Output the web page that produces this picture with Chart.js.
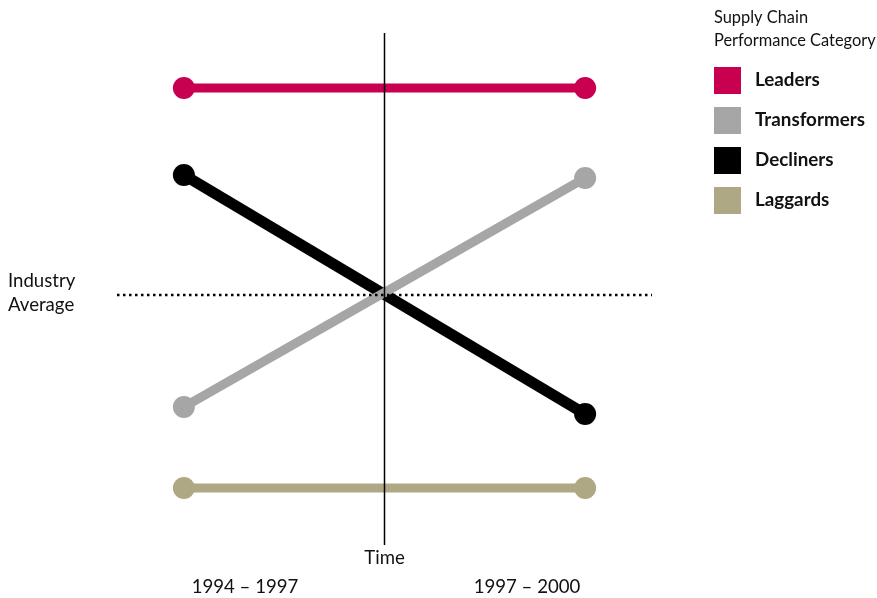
<!DOCTYPE html>
<html lang="en">
<head>
    <meta charset="UTF-8">
    <title>Supply Chain Performance Category</title>
    <script src="https://cdn.jsdelivr.net/npm/chart.js@4.4.0/dist/chart.umd.min.js"></script>
    <style>
        html, body { margin: 0; padding: 0; background: #fff; }
        #wrap { position: relative; width: 877px; height: 598px; }
    </style>
</head>
<body>
<div id="wrap"><canvas id="myChart" width="877" height="598"></canvas></div>
<script>
    // periods (x = 0 and x = 1), industry average sits at 0
    const periods = ['1994 \u2013 1997', '1997 \u2013 2000'];
    const categories = ['Leaders', 'Transformers', 'Decliners', 'Laggards'];
    const leaders = [2.07, 2.07];
    const transformers = [-1.12, 1.17];
    const decliners = [1.20, -1.19];
    const laggards = [-1.93, -1.93];
    const industryAverage = 0;
    const colors = ['#c8004f', '#a6a6a6', '#000000', '#aea884'];

    const fontFam = 'Lato, "Open Sans", sans-serif';
    const yMin = -2.5, yMax = 2.62;

    function pts(arr) {
        return arr.map(function (v, i) { return {x: i, y: v}; });
    }

    // draws legend, side label and period labels
    const textPlugin = {
        id: 'texts',
        afterDraw: function (chart) {
            const ctx = chart.ctx;
            const xs = chart.scales.x, ys = chart.scales.y;
            ctx.save();
            ctx.fillStyle = '#111';
            ctx.textBaseline = 'middle';
            ctx.textAlign = 'left';
            ctx.font = '16.4px ' + fontFam;
            ctx.fillText('Supply Chain', 714, 18);
            ctx.fillText('Performance Category', 714, 41);
            categories.forEach(function (c, i) {
                const y = 80 + i * 40;
                ctx.fillStyle = colors[i];
                ctx.fillRect(714, y - 13, 27, 27);
                ctx.fillStyle = '#111';
                ctx.font = 'bold 18.8px ' + fontFam;
                ctx.fillText(c, 755, y);
            });
            ctx.font = '18.6px ' + fontFam;
            const avgY = ys.getPixelForValue(industryAverage);
            ctx.fillText('Industry', 8, avgY - 14);
            ctx.fillText('Average', 8, avgY + 10);
            ctx.textAlign = 'center';
            ctx.fillText('Time', xs.getPixelForValue(0.5), 558);
            ctx.fillText(periods[0], 245, 587);
            ctx.fillText(periods[1], 527, 587);
            ctx.restore();
        }
    };

    const lineStyle = function (label, data, color, width, order) {
        return {
            label: label,
            data: pts(data),
            borderColor: color,
            backgroundColor: color,
            borderWidth: width,
            pointRadius: 11,
            pointHoverRadius: 11,
            pointBorderWidth: 0,
            order: order
        };
    };

    const ctx = document.getElementById('myChart').getContext('2d');
    const chart = new Chart(ctx, {
        type: 'line',
        data: {
            datasets: [
                {
                    label: 'time',
                    data: [{x: 0.5, y: yMax}, {x: 0.5, y: yMin}],
                    borderColor: '#000',
                    borderWidth: 1.5,
                    pointRadius: 0,
                    order: 0
                },
                {
                    label: 'Industry Average',
                    data: [{x: -1 / 6, y: industryAverage}, {x: 7 / 6, y: industryAverage}],
                    borderColor: '#000',
                    borderWidth: 2.5,
                    borderDash: [2.5, 3.5],
                    pointRadius: 0,
                    order: 1
                },
                lineStyle('Transformers', transformers, colors[1], 9, 2),
                lineStyle('Decliners', decliners, colors[2], 11, 3),
                lineStyle('Leaders', leaders, colors[0], 9, 4),
                lineStyle('Laggards', laggards, colors[3], 9, 5)
            ]
        },
        options: {
            responsive: false,
            animation: false,
            layout: {padding: {left: 117, right: 225, top: 33, bottom: 53}},
            plugins: {legend: {display: false}, tooltip: {enabled: false}},
            scales: {
                x: {type: 'linear', min: -1 / 6, max: 7 / 6, display: false},
                y: {type: 'linear', min: yMin, max: yMax, display: false}
            },
            elements: {line: {tension: 0, borderCapStyle: 'butt'}}
        },
        plugins: [textPlugin]
    });
</script>
</body>
</html>
